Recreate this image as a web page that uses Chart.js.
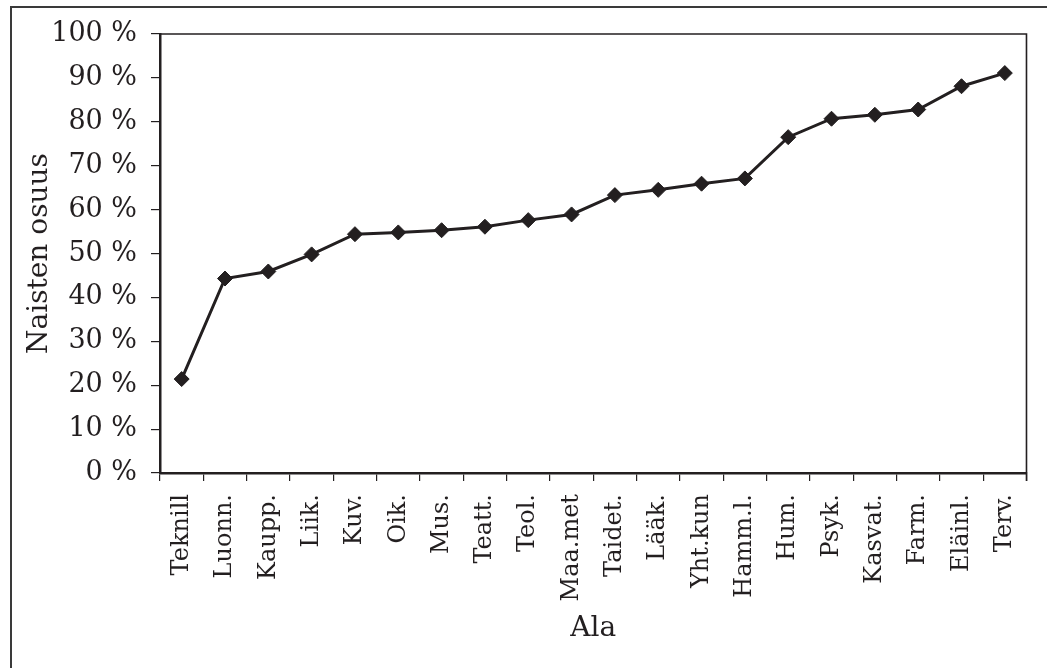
<!DOCTYPE html>
<html>
<head>
<meta charset="utf-8">
<script src="https://cdn.jsdelivr.net/npm/chart.js@4/dist/chart.umd.min.js"></script>
<style>
html, body { margin: 0; padding: 0; background: #ffffff; }
canvas { display: block; }
</style>
</head>
<body>
<canvas id="c" width="1047" height="668"></canvas>
<script>
// ---- data ----
const categories = ['Teknill', 'Luonn.', 'Kaupp.', 'Liik.', 'Kuv.', 'Oik.', 'Mus.', 'Teatt.', 'Teol.', 'Maa.met',
                    'Taidet.', 'Lääk.', 'Yht.kun', 'Hamm.l.', 'Hum.', 'Psyk.', 'Kasvat.', 'Farm.', 'Eläinl.', 'Terv.'];
const womenShare = [21.4, 44.3, 45.9, 49.8, 54.4, 54.8, 55.3, 56.1, 57.6, 58.9,
                    63.3, 64.5, 65.9, 67.1, 76.5, 80.7, 81.6, 82.8, 88.1, 91.1];
const yTickValues = [0, 10, 20, 30, 40, 50, 60, 70, 80, 90, 100];
const xAxisTitle = 'Ala';
const yAxisTitle = 'Naisten osuus';

const INK = '#231f20';
Chart.defaults.font.family = "'DejaVu Serif', serif";
Chart.defaults.color = INK;

const framePlugin = {
  id: 'frame',
  beforeDraw(chart) {
    const ctx = chart.ctx;
    ctx.save();
    ctx.fillStyle = '#ffffff';
    ctx.fillRect(0, 0, chart.width, chart.height);
    ctx.strokeStyle = '#3a3a3a';
    ctx.lineWidth = 2;
    ctx.beginPath();
    ctx.moveTo(11, chart.height + 2);
    ctx.lineTo(11, 7);
    ctx.lineTo(chart.width + 2, 7);
    ctx.stroke();
    ctx.restore();
  },
  afterDatasetsDraw(chart) {
    const a = chart.chartArea;
    const ctx = chart.ctx;
    ctx.save();
    ctx.strokeStyle = INK;
    ctx.lineWidth = 1.6;
    ctx.beginPath();
    ctx.moveTo(a.left, a.top);
    ctx.lineTo(a.right, a.top);
    ctx.lineTo(a.right, a.bottom + 8);
    ctx.stroke();
    ctx.restore();
  }
};

new Chart(document.getElementById('c'), {
  type: 'line',
  data: {
    labels: categories,
    datasets: [{
      data: womenShare,
      borderColor: INK,
      backgroundColor: INK,
      borderWidth: 3,
      pointStyle: 'rectRot',
      pointRadius: 7.5,
      pointBorderWidth: 1,
      pointBackgroundColor: INK,
      pointBorderColor: INK,
      tension: 0,
      fill: false
    }]
  },
  options: {
    responsive: false,
    animation: false,
    events: [],
    layout: { padding: { left: 0, top: 34, right: 15, bottom: 0 } },
    plugins: { legend: { display: false }, tooltip: { enabled: false } },
    scales: {
      x: {
        type: 'category',
        offset: true,
        grid: { offset: true, drawOnChartArea: false, drawTicks: true, tickLength: 8, color: INK, lineWidth: 1.2 },
        border: { display: true, color: INK, width: 2.5 },
        ticks: { autoSkip: false, minRotation: 90, maxRotation: 90, padding: 13, color: INK, font: { size: 24 } },
        title: { display: true, text: xAxisTitle, color: INK, font: { size: 28 }, padding: { top: 0, bottom: 22 } },
        afterFit(s) { s.height = 195; }
      },
      y: {
        min: 0,
        max: 100,
        afterBuildTicks(s) { s.ticks = yTickValues.map(v => ({ value: v })); },
        grid: { drawOnChartArea: false, drawTicks: true, tickLength: 9, color: INK, lineWidth: 1.2 },
        border: { display: true, color: INK, width: 2.5 },
        ticks: { padding: 14, color: INK, font: { size: 27 }, callback: v => v + ' %' },
        title: { display: true, text: yAxisTitle, color: INK, font: { size: 28 }, padding: { top: 23, bottom: 0 } },
        afterFit(s) { s.width = 160; }
      }
    }
  },
  plugins: [framePlugin]
});
</script>
</body>
</html>
